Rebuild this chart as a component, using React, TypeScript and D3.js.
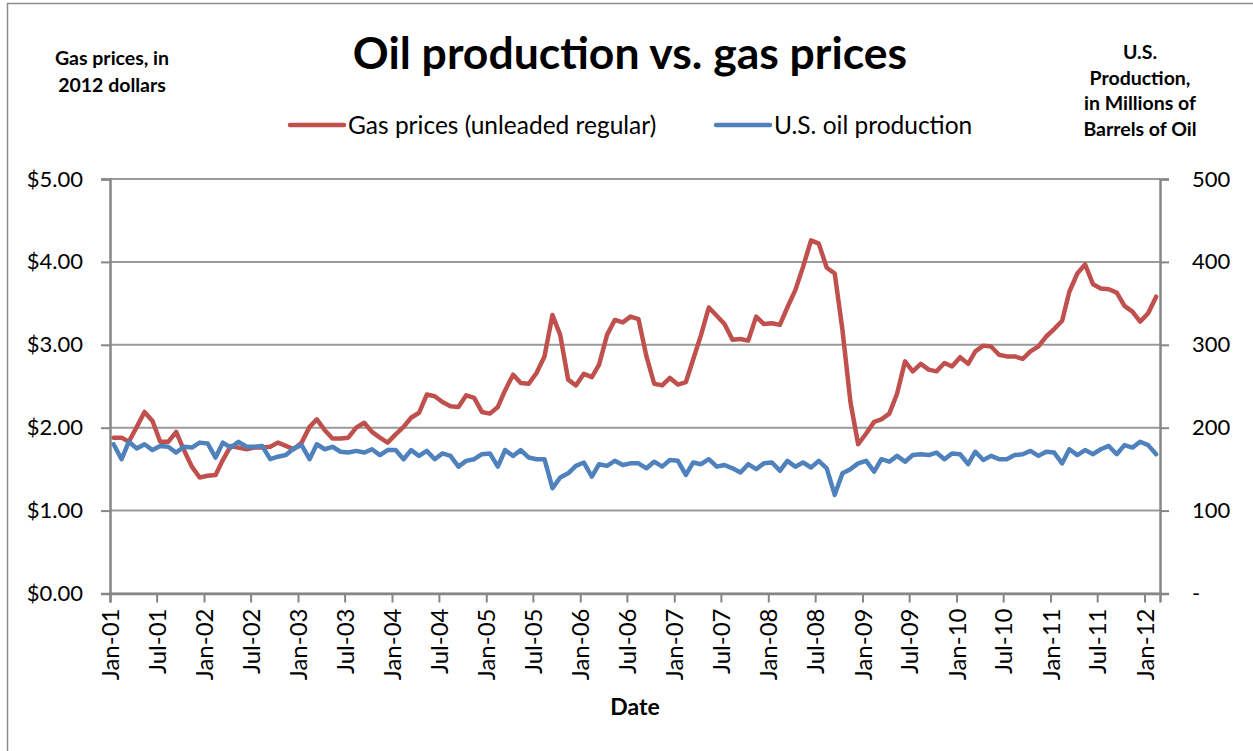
import React, {useEffect, useRef} from 'react';
import * as d3 from "d3"

// monthly values, Jan 2001 .. Feb 2012
const gasPrices = [
    1.88, 1.88, 1.83, 2.01, 2.19, 2.08, 1.83, 1.83, 1.95, 1.73, 1.53, 1.40,
    1.42, 1.43, 1.61, 1.78, 1.76, 1.74, 1.76, 1.76, 1.77, 1.82, 1.78, 1.74,
    1.82, 2.01, 2.10, 1.97, 1.87, 1.87, 1.88, 2.00, 2.06, 1.95, 1.88, 1.82,
    1.92, 2.01, 2.12, 2.18, 2.40, 2.38, 2.31, 2.26, 2.25, 2.39, 2.36, 2.19,
    2.17, 2.25, 2.45, 2.64, 2.54, 2.53, 2.66, 2.86, 3.36, 3.12, 2.58, 2.51,
    2.65, 2.61, 2.76, 3.12, 3.30, 3.27, 3.34, 3.31, 2.86, 2.53, 2.51, 2.60,
    2.52, 2.55, 2.82, 3.12, 3.45, 3.35, 3.25, 3.06, 3.07, 3.05, 3.34, 3.25,
    3.26, 3.24, 3.45, 3.66, 3.94, 4.26, 4.22, 3.93, 3.86, 3.18, 2.31, 1.80,
    1.93, 2.07, 2.10, 2.17, 2.41, 2.80, 2.68, 2.77, 2.70, 2.68, 2.78, 2.74,
    2.85, 2.77, 2.92, 2.99, 2.98, 2.88, 2.86, 2.86, 2.83, 2.92, 2.98, 3.10,
    3.19, 3.29, 3.64, 3.86, 3.97, 3.73, 3.68, 3.67, 3.63, 3.47, 3.40, 3.28,
    3.38, 3.58
]
const oilProduction = [
    180, 162, 183, 175, 180, 173, 178, 177, 170, 177, 176, 182,
    181, 164, 182, 176, 183, 177, 177, 178, 162, 165, 167, 175,
    179, 162, 180, 174, 177, 171, 170, 172, 170, 174, 167, 173,
    173, 162, 173, 166, 172, 162, 169, 166, 153, 160, 162, 168,
    169, 153, 173, 166, 173, 164, 162, 162, 127, 140, 145, 154,
    158, 141, 156, 154, 160, 155, 157, 157, 151, 159, 153, 161,
    160, 143, 158, 156, 162, 153, 155, 151, 146, 156, 150, 157,
    158, 148, 160, 153, 158, 152, 160, 151, 119, 145, 150, 157,
    160, 147, 162, 159, 166, 159, 167, 168, 167, 170, 162, 169,
    168, 156, 171, 161, 166, 162, 162, 167, 168, 172, 166, 171,
    170, 157, 174, 167, 173, 168, 174, 178, 168, 179, 176, 183,
    179, 168
]
const priceTicks = [0, 1, 2, 3, 4, 5]
const productionTicks = [0, 100, 200, 300, 400, 500]

const startMonth = new Date(2001, 0, 15)
const width = 1253
const height = 751
const margin = {left: 110, right: 1160, top: 179, bottom: 593.5}
const font = "Lato, 'Open Sans', sans-serif"

const App = () => {
    const svgRef = useRef(null)

    useEffect(() => {
        const svg = d3.select(svgRef.current)
        svg.selectAll("*").remove()

        const dates = gasPrices.map((_, i) => d3.timeMonth.offset(startMonth, i))

        const xScale = d3.scaleTime()
            .domain([new Date(2001, 0, 1), new Date(2012, 2, 1)])
            .range([margin.left, margin.right])
        const yPrice = d3.scaleLinear().domain([0, 5]).range([margin.bottom, margin.top])
        const yProd = d3.scaleLinear().domain([0, 500]).range([margin.bottom, margin.top])

        // chart border
        svg.append("rect")
            .attr("x", 7.5).attr("y", 3.5)
            .attr("width", 1260).attr("height", 760)
            .attr("fill", "white").attr("stroke", "#8c8c8c").attr("stroke-width", 1.5)

        // gridlines
        svg.append("g")
            .selectAll("line")
            .data(priceTicks)
            .join("line")
            .attr("x1", margin.left).attr("x2", margin.right)
            .attr("y1", d => yPrice(d)).attr("y2", d => yPrice(d))
            .attr("stroke", "#9a9a9a").attr("stroke-width", 2)

        // left axis
        const leftAxis = svg.append("g")
            .attr("transform", `translate(${margin.left},0)`)
            .call(d3.axisLeft(yPrice).tickValues(priceTicks).tickSize(9).tickPadding(18)
                .tickFormat(d => "$" + d3.format(".2f")(d)))
        // right axis
        const rightAxis = svg.append("g")
            .attr("transform", `translate(${margin.right},0)`)
            .call(d3.axisRight(yProd).tickValues(productionTicks).tickSize(9).tickPadding(23)
                .tickFormat(d => d === 0 ? "-" : String(d)))
        // bottom axis
        const monthTicks = d3.timeMonth.every(6).range(new Date(2001, 0, 1), new Date(2012, 1, 1))
        const bottomAxis = svg.append("g")
            .attr("transform", `translate(0,${margin.bottom})`)
            .call(d3.axisBottom(xScale).tickValues(monthTicks).tickSize(9)
                .tickFormat(d3.timeFormat("%b-%y")))

        ;[leftAxis, rightAxis, bottomAxis].forEach(g => {
            g.select(".domain").attr("stroke", "#868686").attr("stroke-width", 2.5)
            g.selectAll(".tick line").attr("stroke", "#868686").attr("stroke-width", 2)
            g.selectAll("text").attr("font-family", font).attr("font-size", 22).attr("fill", "#000")
        })
        bottomAxis.selectAll("text")
            .attr("transform", "rotate(-90)")
            .attr("text-anchor", "end")
            .attr("x", -15).attr("y", 0).attr("dy", "0.36em")
            .attr("font-size", 24)

        // lines
        const priceLine = d3.line()
            .x((d, i) => xScale(dates[i]))
            .y(d => yPrice(d))
        const prodLine = d3.line()
            .x((d, i) => xScale(dates[i]))
            .y(d => yProd(d))

        svg.append("path")
            .datum(gasPrices)
            .attr("d", priceLine)
            .attr("fill", "none")
            .attr("stroke", "#C0504D")
            .attr("stroke-width", 4.5)
            .attr("stroke-linejoin", "round")
            .attr("stroke-linecap", "round")
        svg.append("path")
            .datum(oilProduction)
            .attr("d", prodLine)
            .attr("fill", "none")
            .attr("stroke", "#4F81BD")
            .attr("stroke-width", 4.5)
            .attr("stroke-linejoin", "round")
            .attr("stroke-linecap", "round")

        // title
        svg.append("text")
            .attr("x", 630).attr("y", 69)
            .attr("text-anchor", "middle")
            .attr("font-family", font).attr("font-weight", "bold").attr("font-size", 44.5)
            .text("Oil production vs. gas prices")

        // legend
        const legend = [
            {label: "Gas prices (unleaded regular)", color: "#C0504D", x: 290},
            {label: "U.S. oil production", color: "#4F81BD", x: 716}
        ]
        const lg = svg.append("g")
        lg.selectAll("line")
            .data(legend)
            .join("line")
            .attr("x1", d => d.x).attr("x2", d => d.x + 54)
            .attr("y1", 125).attr("y2", 125)
            .attr("stroke", d => d.color).attr("stroke-width", 4.5).attr("stroke-linecap", "round")
        lg.selectAll("text")
            .data(legend)
            .join("text")
            .attr("x", d => d.x + 58).attr("y", 134)
            .attr("font-family", font).attr("font-size", 24.5)
            .text(d => d.label)

        // axis titles
        const leftTitle = ["Gas prices, in", "2012 dollars"]
        svg.append("text")
            .attr("font-family", font).attr("font-weight", "bold").attr("font-size", 19.5)
            .attr("text-anchor", "middle")
            .selectAll("tspan")
            .data(leftTitle)
            .join("tspan")
            .attr("x", 112).attr("y", (d, i) => 65 + i * 27)
            .text(d => d)
        const rightTitle = ["U.S.", "Production,", "in Millions of", "Barrels of Oil"]
        svg.append("text")
            .attr("font-family", font).attr("font-weight", "bold").attr("font-size", 19.5)
            .attr("text-anchor", "middle")
            .selectAll("tspan")
            .data(rightTitle)
            .join("tspan")
            .attr("x", 1140).attr("y", (d, i) => 59 + i * 25.5)
            .text(d => d)
        svg.append("text")
            .attr("x", 635).attr("y", 715)
            .attr("text-anchor", "middle")
            .attr("font-family", font).attr("font-weight", "bold").attr("font-size", 23)
            .text("Date")
    }, [])

    return (
        <div style={{position: "absolute", left: 0, top: 0}}>
            <svg ref={svgRef} width={width} height={height} style={{display: "block"}}></svg>
        </div>
    );
};

export default App;
